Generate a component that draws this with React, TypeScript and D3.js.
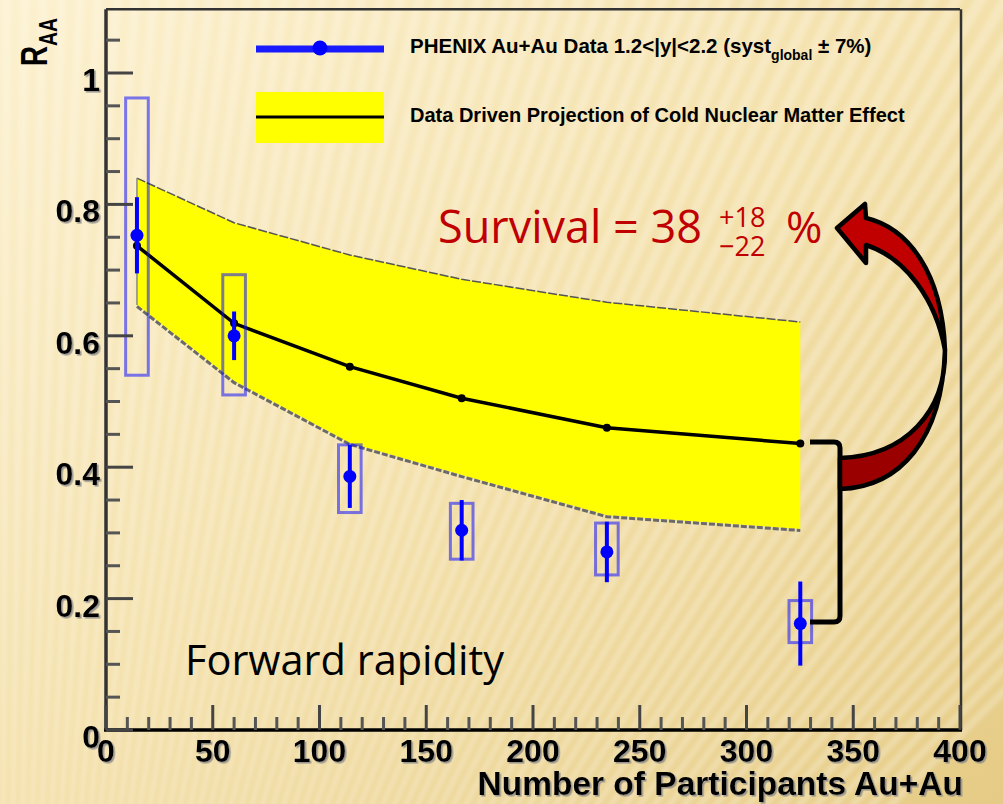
import React from "react";
import * as d3 from "d3";

const W = 1003;
const H = 804;

// Au+Au centrality bins, forward rapidity
const npart = [14.5, 60.0, 114.2, 166.6, 234.6, 325.2];
const raa = [0.753, 0.6, 0.386, 0.304, 0.271, 0.162];
const statErr = [0.058, 0.037, 0.048, 0.046, 0.046, 0.064];
const sysHigh = [0.962, 0.693, 0.434, 0.345, 0.315, 0.197];
const sysLow = [0.54, 0.51, 0.331, 0.26, 0.236, 0.133];

// Cold nuclear matter projection: central value and band
const cnmCentral = [0.737, 0.619, 0.553, 0.505, 0.46, 0.436];
const cnmUpper = [0.84, 0.772, 0.723, 0.686, 0.651, 0.621];
const cnmLower = [0.647, 0.531, 0.437, 0.388, 0.327, 0.306];

const xTickValues = [0, 50, 100, 150, 200, 250, 300, 350, 400];
const yTickValues = [0, 0.2, 0.4, 0.6, 0.8, 1];
const yTickLabels = ["0", "0.2", "0.4", "0.6", "0.8", "1"];

const legendData = "PHENIX Au+Au Data 1.2<|y|<2.2 (syst";
const legendCnm = "Data Driven Projection of Cold Nuclear Matter Effect";

const x = d3.scaleLinear().domain([0, 400]).range([106, 960]);
const y = d3.scaleLinear().domain([0, 1]).range([730, 73]);
const yFrameTop = 1.097;
const sysHalfWidth = 5.3;

const rootFont = "'Liberation Sans', Arial, sans-serif";
const slideFont = "'Open Sans', 'Noto Sans', sans-serif";

export default function App() {
  const idx = d3.range(npart.length);

  const band = d3
    .area<number>()
    .x((i) => x(npart[i]))
    .y0((i) => y(cnmLower[i]))
    .y1((i) => y(cnmUpper[i]));
  const upperEdge = d3
    .line<number>()
    .x((i) => x(npart[i]))
    .y((i) => y(cnmUpper[i]));
  const lowerEdge = d3
    .line<number>()
    .x((i) => x(npart[i]))
    .y((i) => y(cnmLower[i]));
  const central = d3
    .line<number>()
    .x((i) => x(npart[i]))
    .y((i) => y(cnmCentral[i]));

  // radiating background streaks
  const cx = 0;
  const cy = 1700;
  const step = (0.62 * Math.PI) / 180;
  const wedges = d3.range((-8 * Math.PI) / 180, (45 * Math.PI) / 180, step).map((a) => {
    const R = 3200;
    const p1 = [cx + R * Math.sin(a), cy - R * Math.cos(a)];
    const p2 = [cx + R * Math.sin(a + step / 2), cy - R * Math.cos(a + step / 2)];
    return `M${cx},${cy}L${p1[0]},${p1[1]}L${p2[0]},${p2[1]}Z`;
  });

  const xMinor = d3.range(0, 401, 10).filter((v) => v % 50 !== 0);
  const yMinor = d3
    .range(0, 22)
    .map((k) => k * 0.05)
    .filter((_, k) => k % 4 !== 0);

  return (
    <div style={{ position: "fixed", left: 0, top: 0, width: W, height: H }}>
      <svg width={W} height={H} viewBox={`0 0 ${W} ${H}`}>
        <defs>
          <linearGradient id="bg" x1="0" y1="0" x2="1" y2="1">
            <stop offset="0" stopColor="#fcf1cf" />
            <stop offset="0.5" stopColor="#f3e0aa" />
            <stop offset="1" stopColor="#e5cb85" />
          </linearGradient>
          <filter id="soft" x="-5%" y="-5%" width="110%" height="110%">
            <feGaussianBlur stdDeviation="2.2" />
          </filter>
          <filter id="rootShadow" x="-10%" y="-20%" width="120%" height="150%">
            <feDropShadow dx="1.6" dy="1.6" stdDeviation="0.4" floodColor="#8a8a8a" floodOpacity="0.85" />
          </filter>
        </defs>

        <rect x={0} y={0} width={W} height={H} fill="url(#bg)" />
        <g filter="url(#soft)">
          {wedges.map((d, i) => (
            <path key={i} d={d} fill="#fffaf0" opacity={0.3} />
          ))}
        </g>

        {/* frame */}
        <line x1={x(0)} x2={x(400)} y1={y(yFrameTop)} y2={y(yFrameTop)} stroke="#333" strokeWidth={2.5} />
        <line x1={961} x2={961} y1={y(yFrameTop)} y2={y(0)} stroke="#333" strokeWidth={2.5} />

        {/* projection band */}
        <path d={band(idx) || ""} fill="#ffff00" />
        <path d={upperEdge(idx) || ""} fill="none" stroke="#555" strokeWidth={1.5} strokeDasharray="9 2" />
        <path
          d={lowerEdge(idx) || ""}
          fill="none"
          stroke="#6a6a6a"
          strokeWidth={3}
          strokeDasharray="6 2"
          transform="translate(0,1.5)"
        />
        <line x1={x(npart[0])} x2={x(npart[0])} y1={y(cnmUpper[0])} y2={y(cnmLower[0])} stroke="#888" strokeWidth={1.5} />
        <path d={central(idx) || ""} fill="none" stroke="#000" strokeWidth={3.5} />
        {idx.map((i) => (
          <circle key={i} cx={x(npart[i])} cy={y(cnmCentral[i])} r={4} fill="#000" />
        ))}

        {/* systematic boxes */}
        {idx.map((i) => (
          <rect
            key={i}
            x={x(npart[i] - sysHalfWidth)}
            y={y(sysHigh[i])}
            width={x(npart[i] + sysHalfWidth) - x(npart[i] - sysHalfWidth)}
            height={y(sysLow[i]) - y(sysHigh[i])}
            fill="none"
            stroke="#1010ff"
            strokeOpacity={0.55}
            strokeWidth={3}
          />
        ))}

        {/* statistical errors and points */}
        {idx.map((i) => (
          <g key={i}>
            <line
              x1={x(npart[i])}
              x2={x(npart[i])}
              y1={y(raa[i] + statErr[i])}
              y2={y(raa[i] - statErr[i])}
              stroke="#0000ff"
              strokeWidth={4}
            />
            <circle cx={x(npart[i])} cy={y(raa[i])} r={6.5} fill="#0000ff" />
          </g>
        ))}

        {/* axes */}
        <line x1={106} x2={106} y1={y(yFrameTop)} y2={y(0)} stroke="#333" strokeWidth={3.5} />
        <line x1={104} x2={962} y1={y(0)} y2={y(0)} stroke="#000" strokeWidth={3.5} />
        {xTickValues.map((v) => (
          <line key={v} x1={x(v)} x2={x(v)} y1={y(0)} y2={y(0) - 25} stroke="#444" strokeWidth={3} />
        ))}
        {xMinor.map((v) => (
          <line key={v} x1={x(v)} x2={x(v)} y1={y(0)} y2={y(0) - 13} stroke="#555" strokeWidth={3} />
        ))}
        {yTickValues.map((v) => (
          <line key={v} x1={106} x2={133} y1={y(v)} y2={y(v)} stroke="#444" strokeWidth={3} />
        ))}
        {yMinor.map((v) => (
          <line key={v} x1={106} x2={120} y1={y(v)} y2={y(v)} stroke="#555" strokeWidth={3} />
        ))}

        <g filter="url(#rootShadow)" fontFamily={rootFont} fontWeight="bold" fill="#000">
          {xTickValues.map((v) => (
            <text key={v} x={x(v)} y={762} fontSize={32} textAnchor="middle">
              {String(v)}
            </text>
          ))}
          {yTickValues.map((v, k) => (
            <text key={v} x={100} y={y(v) + 18} fontSize={32} textAnchor="end">
              {yTickLabels[k]}
            </text>
          ))}
          <text x={963} y={795} fontSize={33.5} textAnchor="end">
            Number of Participants Au+Au
          </text>
        </g>

        <g transform="translate(47,66) rotate(-90) scale(0.75,1)">
          <text x={0} y={0} fontFamily={rootFont} fontWeight="bold" fontSize={37} fill="#000">
            R
            <tspan dy={10} fontSize={26}>
              AA
            </tspan>
          </text>
        </g>

        {/* legend */}
        <line x1={256} x2={384} y1={49} y2={49} stroke="#1a1aff" strokeWidth={7} />
        <circle cx={320} cy={48} r={7.5} fill="#0000ff" />
        <text x={410} y={53} fontFamily={rootFont} fontWeight="bold" fontSize={20.5} fill="#000">
          {legendData}
          <tspan dy={7} fontSize={14}>
            global
          </tspan>
          <tspan dy={-7}>{" \u00b1 7%)"}</tspan>
        </text>
        <rect x={256} y={92} width={128} height={51} fill="#ffff00" />
        <line x1={256} x2={384} y1={117} y2={117} stroke="#000" strokeWidth={3} />
        <text x={410} y={122} fontFamily={rootFont} fontWeight="bold" fontSize={20} fill="#000">
          {legendCnm}
        </text>

        {/* annotations */}
        <text x={185} y={675} fontFamily={slideFont} fontSize={41.5} fill="#000">
          Forward rapidity
        </text>
        <text x={438} y={243} fontFamily={slideFont} fontSize={45} fill="#c00000">
          Survival = 38
        </text>
        <text x={719} y={227} fontFamily={slideFont} fontSize={27} fill="#c00000">
          +18
        </text>
        <text x={719} y={256} fontFamily={slideFont} fontSize={27} fill="#c00000">
          {"\u221222"}
        </text>
        <text x={786} y={243} fontFamily={slideFont} fontSize={44} fill="#c00000">
          %
        </text>

        {/* bracket */}
        <path
          d="M810,442 L834,442 Q840,442 840,448 L840,616 Q840,622 834,622 L810,622"
          fill="none"
          stroke="#000"
          strokeWidth={5}
        />

        {/* curved arrow */}
        <path
          d="M945,350 C946,412 905,456 840,458 L840,489 C900,487 942,440 945,350 Z"
          fill="#9a0000"
          stroke="#000"
          strokeWidth={4.5}
          strokeLinejoin="round"
        />
        <path
          d="M837,228 L865,204 L866,218 C908,228 942,272 945,350 C936,300 906,258 866,245 L866,263 Z"
          fill="#c00000"
          stroke="#000"
          strokeWidth={4.5}
          strokeLinejoin="round"
        />
      </svg>
    </div>
  );
}
